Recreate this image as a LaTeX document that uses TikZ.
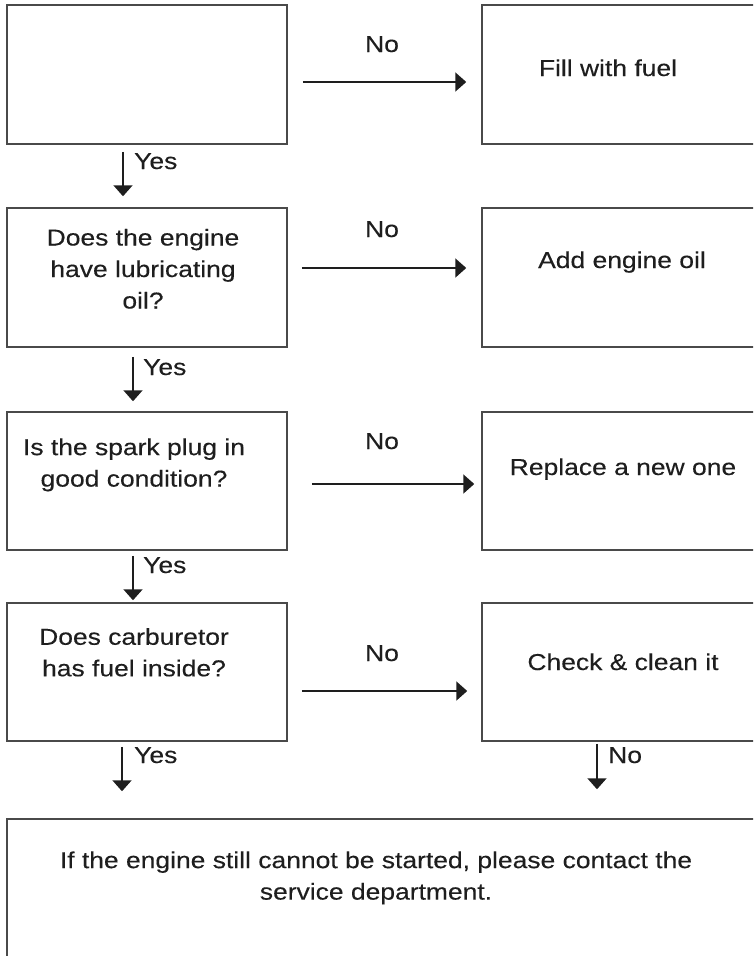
\documentclass[tikz,border=0pt]{standalone}
\usepackage{fontspec}
\setmainfont{Liberation Sans}[FakeStretch=1.15,FakeBold=0.25]
\usetikzlibrary{arrows.meta}
\definecolor{boxline}{HTML}{4A4A4A}
\definecolor{ink}{HTML}{1E1E1E}
\begin{document}
\begin{tikzpicture}[x=1pt,y=-1pt,
  every node/.style={font=\fontsize{23}{31.5}\selectfont, text=ink},
  box/.style={draw=boxline, line width=1.5pt, inner sep=0pt},
  arr/.style={draw=ink, line width=2pt, -{Triangle[width=19pt,length=11pt]}},
  lbl/.style={inner sep=0pt},
  multi/.style={inner sep=0pt, align=center}]
\useasboundingbox (0,0) rectangle (753,956);
\clip (0,0) rectangle (753,956);
% left boxes
\node[box, minimum width=280pt, minimum height=139pt] (b1) at (147,74.5) {};
\node[box, minimum width=280pt, minimum height=139pt] (b2) at (147,277.5) {};
\node[box, minimum width=280pt, minimum height=138pt] (b3) at (147,481) {};
\node[box, minimum width=280pt, minimum height=138pt] (b4) at (147,672) {};
% right boxes
\node[box, minimum width=278pt, minimum height=139pt] (r1) at (621,74.5) {};
\node[box, minimum width=278pt, minimum height=139pt] (r2) at (621,277.5) {};
\node[box, minimum width=278pt, minimum height=138pt] (r3) at (621,481) {};
\node[box, minimum width=278pt, minimum height=138pt] (r4) at (621,672) {};
% final box
\node[box, minimum width=753pt, minimum height=151pt] (fin) at (383.5,894.5) {};
% texts
\node[lbl, anchor=base] (t1) at (608,76) {Fill with fuel};
\node[multi] (t2) at (143,268.8) {Does the engine\\have lubricating\\oil?};
\node[lbl, anchor=base] (t3) at (622,268) {Add engine oil};
\node[multi] (t4) at (134,464.9) {Is the spark plug in\\good condition?};
\node[lbl, anchor=base] (t5) at (623,475) {Replace a new one};
\node[multi] (t6) at (134,652.3) {Does carburetor\\has fuel inside?};
\node[lbl, anchor=base] (t7) at (623,670) {Check \& clean it};
\node[multi] (t8) at (376,877.9) {If the engine still cannot be started, please contact the\\service department.};
% horizontal arrows
\draw[arr, shorten <=15pt, shorten >=15pt] ([yshift=-7.5pt]b1.east) -- ([yshift=-7.5pt]r1.west);
\draw[arr, shorten <=14pt, shorten >=15pt] ([yshift=9.5pt]b2.east) -- ([yshift=9.5pt]r2.west);
\draw[arr, shorten <=24pt, shorten >=7pt] ([yshift=-3pt]b3.east) -- ([yshift=-3pt]r3.west);
\draw[arr, shorten <=14pt, shorten >=14pt] ([yshift=-19pt]b4.east) -- ([yshift=-19pt]r4.west);
\node[lbl, anchor=base] (n1) at (382,52) {No};
\node[lbl, anchor=base] (n2) at (382,237) {No};
\node[lbl, anchor=base] (n3) at (382,449) {No};
\node[lbl, anchor=base] (n4) at (382,661) {No};
% vertical arrows
\draw[arr, shorten <=7pt, shorten >=11pt] ([xshift=-24pt]b1.south) -- ([xshift=-24pt]b2.north);
\draw[arr, shorten <=9pt, shorten >=10pt] ([xshift=-14pt]b2.south) -- ([xshift=-14pt]b3.north);
\draw[arr, shorten <=5pt, shorten >=2pt] ([xshift=-14pt]b3.south) -- ([xshift=-14pt]b4.north);
\draw[arr, shorten <=5pt, shorten >=27pt] ([xshift=-25pt]b4.south) -- ([xshift=-25pt]b4.south |- fin.north);
\draw[arr, shorten <=2pt, shorten >=29pt] ([xshift=-24pt]r4.south) -- ([xshift=-24pt]r4.south |- fin.north);
\node[lbl, anchor=base west] (y1) at (134,169) {Yes};
\node[lbl, anchor=base west] (y2) at (143,375) {Yes};
\node[lbl, anchor=base west] (y3) at (143,573) {Yes};
\node[lbl, anchor=base west] (y4) at (134,763) {Yes};
\node[lbl, anchor=base west] (n5) at (608,763) {No};
\end{tikzpicture}
\end{document}
